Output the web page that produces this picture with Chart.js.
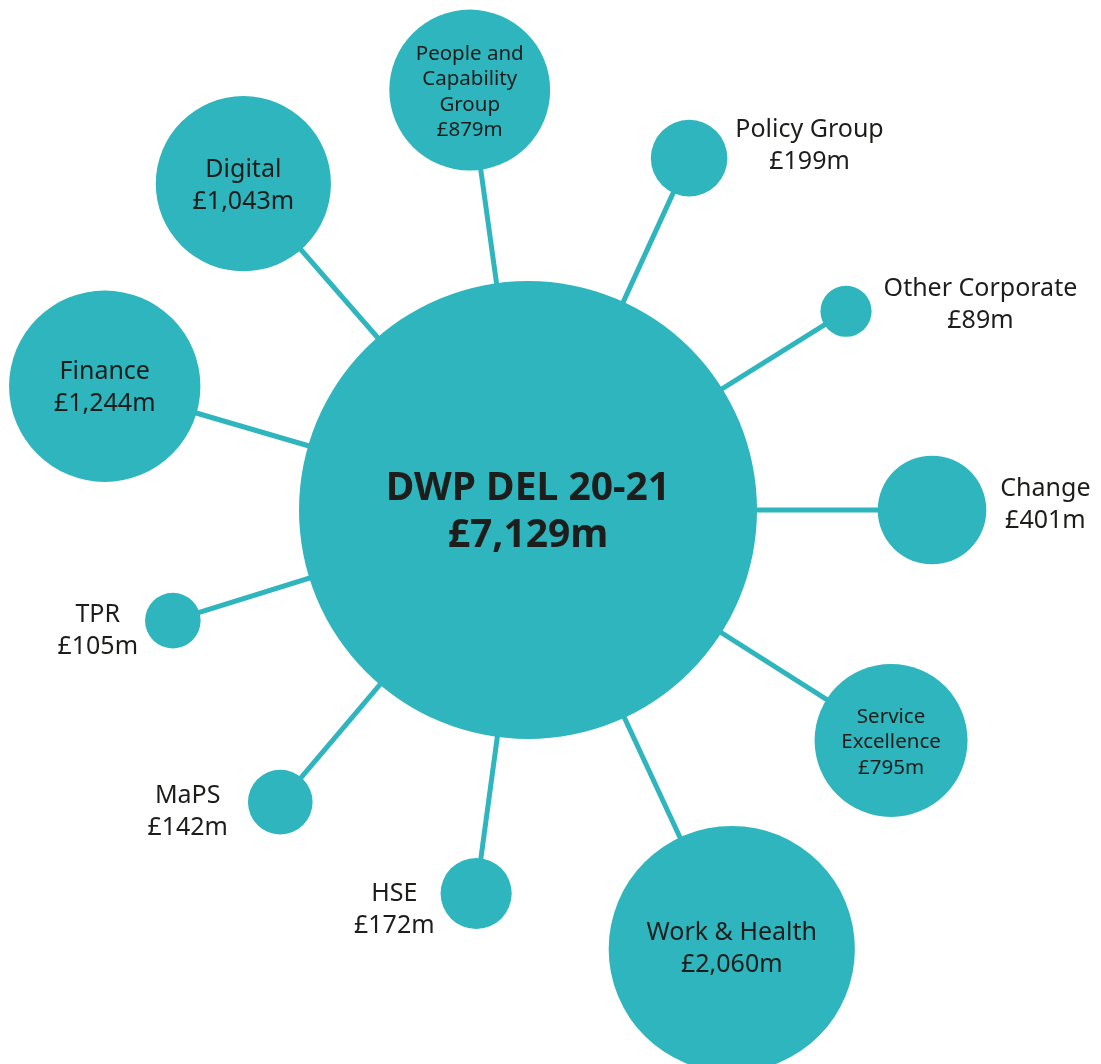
<!DOCTYPE html>
<html>
<head>
<meta charset="utf-8">
<script src="https://cdn.jsdelivr.net/npm/chart.js@4.4.1/dist/chart.umd.min.js"></script>
<style>
  html, body { margin: 0; padding: 0; background: #ffffff; }
  #wrap { width: 1101px; height: 1064px; }
</style>
</head>
<body>
<div id="wrap"><canvas id="chart" width="1101" height="1064"></canvas></div>
<script>
// DWP DEL 2020-21 budget split by group, £m
const totalName = 'DWP DEL 20-21'
const totalAmount = 7129
const categories = [
  'People and Capability Group', 'Digital', 'Policy Group', 'Other Corporate',
  'Finance', 'Change', 'TPR', 'Service Excellence', 'MaPS', 'HSE', 'Work & Health',
]
const amounts = [879, 1043, 199, 89, 1244, 401, 105, 795, 142, 172, 2060]

// layout of the spokes: degrees clockwise from 12 o'clock, and length
const spokeAngle = [352.1, 318.9, 24.6, 58.0, 286.3, 90, 252.7, 122.4, 220.3, 187.7, 155.1]
const spokeLength = [424, 433, 387, 375, 441, 404, 372, 430, 383, 387, 484]
const labelSide = ['inside', 'inside', 'right', 'right', 'inside', 'right', 'left', 'inside', 'left', 'left', 'inside']
// gap from bubble edge and vertical nudge for labels outside the bubble
const labelGap = [0, 0, 8, 12, 0, 14, 7, 0, 20, 6, 0]
const labelDy = [2, 2, -12, -6, 2, -5, 10, 2, 10, 16, 0]

const TEAL = '#2eb5bd'
const INK = '#1d1d1b'
const FONT = '"Noto Sans", "Open Sans", sans-serif'
const maxRadius = 229

const radiusFor = v => maxRadius * Math.sqrt(v / totalAmount)
const money = v => '£' + v.toLocaleString('en-GB') + 'm'

const points = categories.map((name, i) => {
  const a = spokeAngle[i] * Math.PI / 180
  return { x: Math.sin(a) * spokeLength[i], y: Math.cos(a) * spokeLength[i], r: radiusFor(amounts[i]) }
})

const spokes = points.map(p => ({
  type: 'line',
  data: [{ x: 0, y: 0 }, { x: p.x, y: p.y }],
  borderColor: TEAL,
  borderWidth: 5,
  pointRadius: 0,
  order: 3,
  clip: false,
}))

function wrapWords(ctx, text, maxW) {
  const words = text.split(' ')
  const lines = []
  let cur = ''
  words.forEach(w => {
    const test = cur ? cur + ' ' + w : w
    if (cur && ctx.measureText(test).width > maxW) {
      lines.push(cur)
      cur = w
    } else {
      cur = test
    }
  })
  if (cur) lines.push(cur)
  return lines
}

const bubbleLabels = {
  id: 'bubbleLabels',
  afterDatasetsDraw(chart) {
    const ctx = chart.ctx
    ctx.save()
    ctx.fillStyle = INK
    ctx.textAlign = 'center'
    ctx.textBaseline = 'middle'

    // centre bubble
    const hub = chart.getDatasetMeta(chart.data.datasets.length - 1).data[0]
    ctx.font = 'bold 39px ' + FONT
    ctx.fillText(totalName, hub.x, hub.y - 21)
    ctx.fillText(money(totalAmount), hub.x, hub.y + 26)

    const meta = chart.getDatasetMeta(chart.data.datasets.length - 2)
    meta.data.forEach((el, i) => {
      const r = points[i].r
      const side = labelSide[i]
      const small = side === 'inside' && r < 85
      const size = small ? 20.5 : 25
      const lh = small ? 25.5 : 32
      ctx.font = size + 'px ' + FONT
      let lines = side === 'inside' ? wrapWords(ctx, categories[i], r * 1.45) : [categories[i]]
      lines = lines.concat([money(amounts[i])])
      const widest = Math.max(...lines.map(l => ctx.measureText(l).width))
      let cx = el.x
      if (side === 'right') cx = el.x + r + labelGap[i] + widest / 2
      if (side === 'left') cx = el.x - r - labelGap[i] - widest / 2
      const cy = el.y + labelDy[i]
      const top = cy - (lines.length - 1) * lh / 2
      lines.forEach((l, k) => ctx.fillText(l, cx, top + k * lh))
    })
    ctx.restore()
  },
}

new Chart(document.getElementById('chart'), {
  type: 'bubble',
  data: {
    datasets: spokes.concat([
      {
        label: 'Groups',
        data: points,
        backgroundColor: TEAL,
        borderWidth: 0,
        hoverBorderWidth: 0,
        order: 2,
        clip: false,
      },
      {
        label: totalName,
        data: [{ x: 0, y: 0, r: radiusFor(totalAmount) }],
        backgroundColor: TEAL,
        borderWidth: 0,
        hoverBorderWidth: 0,
        order: 1,
        clip: false,
      },
    ]),
  },
  options: {
    responsive: false,
    animation: false,
    events: [],
    layout: { padding: 0, autoPadding: false },
    plugins: { legend: { display: false }, tooltip: { enabled: false } },
    scales: {
      x: { type: 'linear', display: false, min: -528, max: 573 },
      y: { type: 'linear', display: false, min: -554, max: 510 },
    },
  },
  plugins: [bubbleLabels],
})
</script>
</body>
</html>
